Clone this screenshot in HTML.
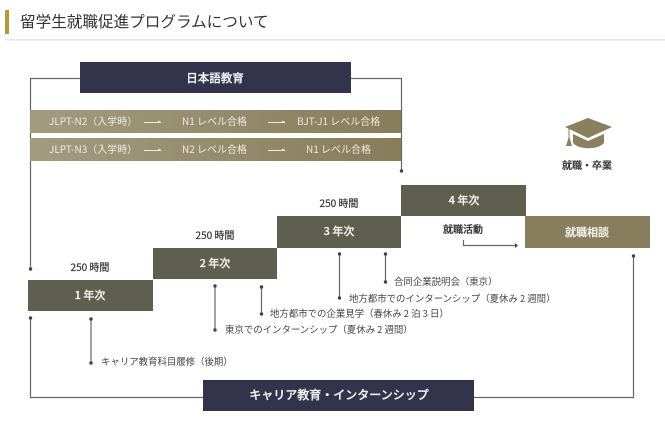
<!DOCTYPE html>
<html lang="ja"><head><meta charset="utf-8"><style>
html,body{margin:0;padding:0;background:#fff}
svg{display:block;font-family:"Noto Sans CJK JP","Liberation Sans",sans-serif;filter:blur(.3px)}
</style></head><body>
<svg width="665" height="425" viewBox="0 0 665 425" xmlns="http://www.w3.org/2000/svg">
<defs><linearGradient id="g"><stop offset="0" stop-color="#a39b80"/><stop offset="1" stop-color="#877d5b"/></linearGradient></defs>
<rect x="5" y="10" width="4" height="24" fill="#b49a3c"/>
<text x="20" y="27" font-size="15.600" fill="#333">留学生就職促進プログラムについて</text>
<rect x="5" y="39" width="660" height="1.500" fill="#e6e6e6"/>
<g fill="none" stroke="#666" stroke-width="1.200">
<path d="M30.500 269V78.500H80M351 78.500H401.500V171"/>
<path d="M30.500 318V397.500H203M474 397.500H633.500V256"/>
<path d="M91 319V363M215 286V330M261.500 287V314M339.500 254V298M385.500 254V282M463.500 240V245.500H515"/>
</g>
<g fill="#444">
<circle cx="30.500" cy="269" r="1.700"/><circle cx="401.500" cy="171" r="1.700"/><circle cx="30.500" cy="318" r="1.700"/><circle cx="91" cy="319" r="1.700"/><circle cx="91" cy="363" r="1.700"/><circle cx="215" cy="286" r="1.700"/><circle cx="215" cy="330" r="1.700"/><circle cx="261.500" cy="287" r="1.700"/><circle cx="261.500" cy="314" r="1.700"/><circle cx="339.500" cy="254" r="1.700"/><circle cx="339.500" cy="298" r="1.700"/><circle cx="385.500" cy="254" r="1.700"/><circle cx="385.500" cy="282" r="1.700"/><circle cx="633.500" cy="256" r="1.700"/>
<path d="M515 243L518 245.500L515 248Z"/>
</g>
<rect x="80" y="62" width="271" height="31" fill="#33344b"/>
<text x="215" y="82" font-size="11.500" font-weight="500" fill="#f2f2f2" stroke="#f2f2f2" stroke-width=".25" text-anchor="middle">日本語教育</text>
<rect x="30" y="110" width="371" height="23" fill="url(#g)"/>
<rect x="30" y="138" width="371" height="23" fill="url(#g)"/>
<g font-size="10" fill="#eeeadf">
<text x="49" y="125">JLPT-N2（入学時）</text><text x="182" y="125">N1 レベル合格</text><text x="297" y="125">BJT-J1 レベル合格</text>
<text x="49" y="153">JLPT-N3（入学時）</text><text x="182" y="153">N2 レベル合格</text><text x="306" y="153">N1 レベル合格</text>
</g>
<g fill="none" stroke="#eeeadf" stroke-width="1">
<path d="M144 122.500H161L158 121M268 122.500H285L282 121M144 150.500H161L158 149M268 150.500H285L282 149"/>
</g>
<rect x="28" y="280" width="125" height="31" fill="#5f5f4f"/>
<rect x="153" y="248" width="124" height="31" fill="#5f5f4f"/>
<rect x="277" y="216" width="124" height="32" fill="#5f5f4f"/>
<rect x="401" y="185" width="125" height="31" fill="#5f5f4f"/>
<rect x="525" y="216" width="125" height="32" fill="#887e5d"/>
<g font-size="11" font-weight="500" fill="#f0efe8" stroke="#f0efe8" stroke-width=".25" text-anchor="middle">
<text x="90" y="299">1 年次</text><text x="215" y="267">2 年次</text><text x="339" y="235">3 年次</text><text x="464" y="204">4 年次</text><text x="587" y="236">就職相談</text>
</g>
<g font-size="10" fill="#333" stroke="#333" stroke-width=".2" text-anchor="middle">
<text x="90" y="271">250 時間</text><text x="215" y="239">250 時間</text><text x="339" y="207">250 時間</text>
<text x="463" y="233" font-weight="500">就職活動</text><text x="587" y="169" font-weight="500">就職・卒業</text>
</g>
<g font-size="9.420" fill="#444">
<text x="394" y="285">合同企業説明会（東京）</text>
<text x="349" y="302">地方都市でのインターンシップ（夏休み 2 週間）</text>
<text x="270" y="317">地方都市での企業見学（春休み 2 泊 3 日）</text>
<text x="225" y="333">東京でのインターンシップ（夏休み 2 週間）</text>
<text x="101" y="365">キャリア教育科目履修（後期）</text>
</g>
<rect x="203" y="380" width="271" height="31" fill="#33344b"/>
<text x="339" y="399" font-size="12" font-weight="500" fill="#f2f2f2" stroke="#f2f2f2" stroke-width=".25" text-anchor="middle">キャリア教育・インターンシップ</text>
<g fill="#8a7f5e">
<path d="M588 118L612 127L588 138L565 127Z"/>
<path d="M573 134L588 141L604 134V143C598 150 579 150 573 143Z"/>
<rect x="568.500" y="128" width="1" height="10"/>
<path d="M569 136L572 146H566Z"/>
</g>
</svg>
</body></html>
